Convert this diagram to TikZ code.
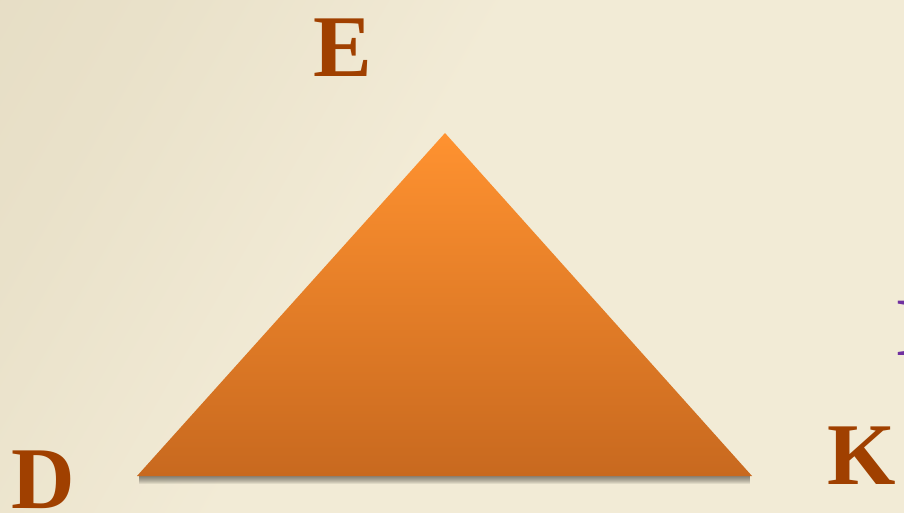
\documentclass[tikz,border=0pt]{standalone}
\usepackage{fontspec}
\setmainfont{Liberation Serif}
\usepackage{xcolor}
\usepackage{tikz}
\definecolor{LetterBrown}{HTML}{A04000}
\definecolor{EdgePurple}{HTML}{7030A0}
\definecolor{PaperDark}{HTML}{E2D9BF}
\definecolor{PaperLight}{HTML}{F2EBD6}
\definecolor{TriTop}{HTML}{FF9230}
\definecolor{TriBottom}{HTML}{C8691F}
\pgfdeclarehorizontalshading{paper}{100bp}{color(0bp)=(PaperDark); color(25bp)=(PaperDark!55!PaperLight); color(45bp)=(PaperLight); color(100bp)=(PaperLight)}

\begin{document}
\begin{tikzpicture}[
    x=1pt, y=-1pt,
    corner/.style={font=\fontsize{88}{88}\selectfont\bfseries, text=LetterBrown, inner sep=0pt, anchor=base},
    edgeletter/.style={font=\fontsize{83}{83}\selectfont\bfseries, text=EdgePurple, inner sep=0pt, anchor=base west},
    blur/.style={fill=black!75!PaperLight, opacity=.1}
  ]
    \useasboundingbox (0,0) rectangle (904,513);
    \clip (0,0) rectangle (904,513);
    \shade[shading=paper, shading angle=-30] (0,0) rectangle (904,513);

    \coordinate (apex) at (445,133);
    \coordinate (left) at (137,476);
    \coordinate (right) at (752,476);

    % soft shadow under the base
    \foreach \d in {1,...,8}
      \fill[blur] ([xshift=2pt, yshift=1pt]left) -- ([xshift=-2pt, yshift=1pt]right) -- ([xshift=-2pt, yshift=-\d pt]right) -- ([xshift=2pt, yshift=-\d pt]left) -- cycle;

    \shade[top color=TriTop, bottom color=TriBottom]
      (apex) -- (right) -- (left) -- cycle;

    \node[corner] (E) at (343,77) {E};
    \node[corner] (D) at (43,508) {D};
    \node[corner] (K) at (862,484) {K};
    \node[edgeletter] (I) at (895,355) {I};
  \end{tikzpicture}
\end{document}
